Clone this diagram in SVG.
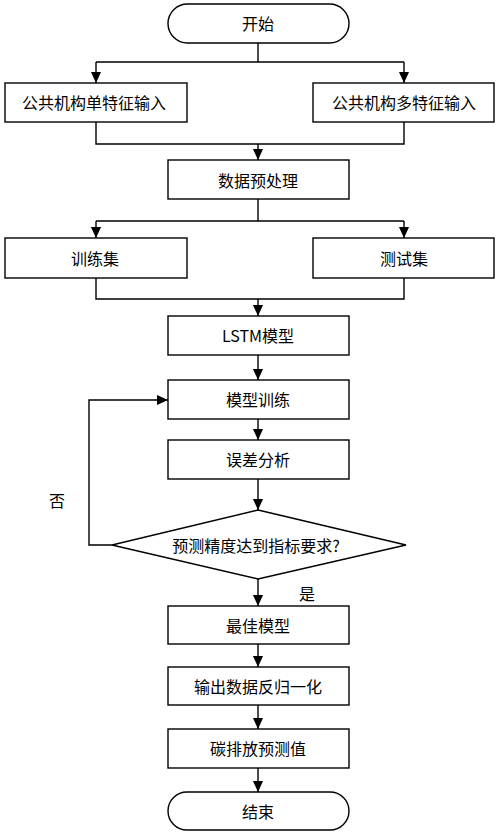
<svg xmlns="http://www.w3.org/2000/svg" width="500" height="836" viewBox="0 0 500 836">
<defs>
<marker id="arr" markerWidth="11" markerHeight="12" refX="12" refY="5.5" orient="auto" markerUnits="userSpaceOnUse" viewBox="0 0 12 11">
<path d="M0,0 L12,5.5 L0,11 Z" fill="#000"/>
</marker>
<style>
.box{fill:#fff;stroke:#000;stroke-width:1.4}
.ln{fill:none;stroke:#000;stroke-width:1.4}
.arw{fill:none;stroke:#000;stroke-width:1.4;marker-end:url(#arr)}
text{font-family:"Noto Sans CJK SC","Liberation Sans",sans-serif;font-size:16px;fill:#000;text-anchor:middle;dominant-baseline:central}
</style>
</defs>
<rect width="500" height="836" fill="#fff"/>
<g id="connectors">
<path class="ln" d="M258,43 V62 M96,62 H404"/>
<path class="arw" d="M96,62 V83"/>
<path class="arw" d="M404,62 V83"/>
<path class="ln" d="M96,122 V144 H404 V122"/>
<path class="arw" d="M258,144 V160"/>
<path class="ln" d="M258,199 V221 M96,221 H404"/>
<path class="arw" d="M96,221 V238"/>
<path class="arw" d="M404,221 V238"/>
<path class="ln" d="M96,278 V299 H404 V278"/>
<path class="arw" d="M258,299 V316"/>
<path class="arw" d="M258,355 V380"/>
<path class="arw" d="M258,419 V440"/>
<path class="arw" d="M258,479 V510"/>
<path class="arw" d="M112,545 H89 V400 H168"/>
<path class="arw" d="M258,579 V606"/>
<path class="arw" d="M258,644 V667"/>
<path class="arw" d="M258,705 V729"/>
<path class="arw" d="M258,768 V792"/>
</g>
<g id="start"><rect class="box" x="168" y="4" width="181" height="39" rx="19.5"/><text x="258" y="23">开始</text></g>
<g id="single"><rect class="box" x="5" y="83" width="182" height="39"/><text x="94" y="102">公共机构单特征输入</text></g>
<g id="multi"><rect class="box" x="313" y="83" width="181" height="39"/><text x="404" y="102">公共机构多特征输入</text></g>
<g id="preprocess"><rect class="box" x="168" y="160" width="181" height="39"/><text x="258" y="180">数据预处理</text></g>
<g id="trainset"><rect class="box" x="5" y="238" width="182" height="40"/><text x="95" y="258">训练集</text></g>
<g id="testset"><rect class="box" x="313" y="238" width="181" height="40"/><text x="404" y="258">测试集</text></g>
<g id="lstm"><rect class="box" x="168" y="316" width="181" height="39"/><text x="258" y="335">LSTM模型</text></g>
<g id="train"><rect class="box" x="168" y="380" width="181" height="39"/><text x="258" y="399">模型训练</text></g>
<g id="error"><rect class="box" x="168" y="440" width="181" height="39"/><text x="258" y="459">误差分析</text></g>
<g id="decision"><polygon class="box" points="258,510 406,545 258,579 112,545"/><text x="256" y="545">预测精度达到指标要求?</text></g>
<g id="labels"><text x="57" y="500">否</text><text x="307" y="593">是</text></g>
<g id="best"><rect class="box" x="168" y="606" width="181" height="38"/><text x="258" y="625">最佳模型</text></g>
<g id="denorm"><rect class="box" x="168" y="667" width="181" height="38"/><text x="258" y="686">输出数据反归一化</text></g>
<g id="carbon"><rect class="box" x="168" y="729" width="181" height="39"/><text x="258" y="748">碳排放预测值</text></g>
<g id="end"><rect class="box" x="168" y="792" width="181" height="38" rx="19"/><text x="258" y="811">结束</text></g>
</svg>
